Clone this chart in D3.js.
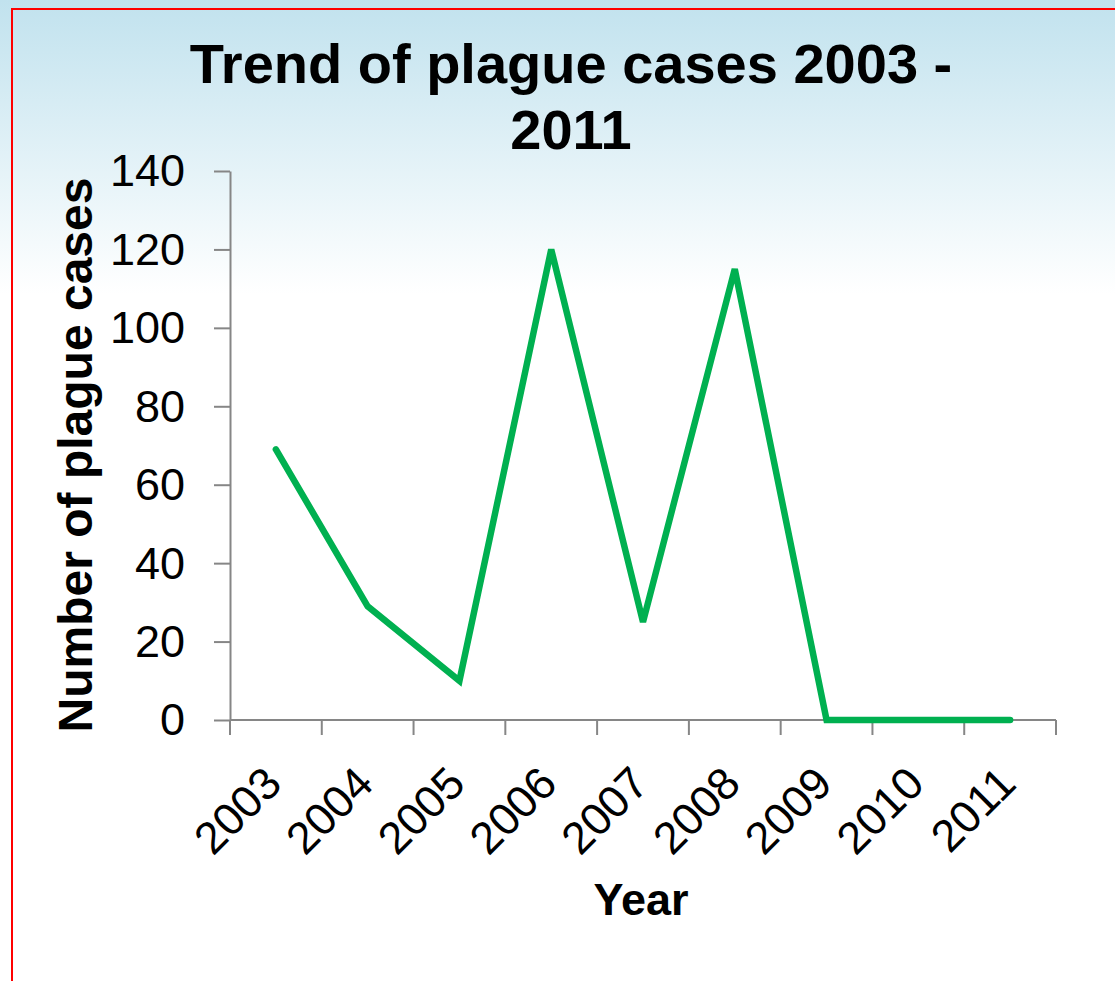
<!DOCTYPE html>
<html>
<head>
<meta charset="utf-8">
<script src="https://cdn.jsdelivr.net/npm/d3@7"></script>
<style>
  html, body { margin: 0; padding: 0; background: #fff; }
  svg { display: block; font-family: "Liberation Sans", Arial, sans-serif; }
</style>
</head>
<body>
<div id="chart"></div>
<script>
const years = ["2003", "2004", "2005", "2006", "2007", "2008", "2009", "2010", "2011"];
const cases = [69, 29, 10, 120, 25, 115, 0, 0, 0];
const yTicks = [0, 20, 40, 60, 80, 100, 120, 140];
const titleLines = ["Trend of plague cases 2003 -", "2011"];

const w = 1115;
const h = 981;

const svg = d3.select("#chart")
    .append("svg")
    .attr("width", w)
    .attr("height", h);

// background fade, blue at the top to white
const grad = svg.append("defs").append("linearGradient")
    .attr("id", "bg")
    .attr("x1", 0).attr("y1", 0)
    .attr("x2", 0).attr("y2", 1);
grad.append("stop").attr("offset", "0").attr("stop-color", "#c1e2ee");
grad.append("stop").attr("offset", "0.3").attr("stop-color", "#ffffff");
grad.append("stop").attr("offset", "1").attr("stop-color", "#ffffff");

svg.append("rect")
    .attr("width", w)
    .attr("height", h)
    .attr("fill", "url(#bg)");

svg.append("rect")
    .attr("x", 12)
    .attr("y", 9)
    .attr("width", 1300)
    .attr("height", 1300)
    .attr("fill", "none")
    .attr("stroke", "#ff0000")
    .attr("stroke-width", 2);

const xScale = d3.scaleBand().domain(years).range([230, 1056]).padding(0);
const yScale = d3.scaleLinear().domain([0, 140]).range([720, 171]);
const bw = xScale.bandwidth();

// y axis
const yAxis = d3.axisLeft(yScale)
    .tickValues(yTicks)
    .tickSize(16)
    .tickPadding(29)
    .tickSizeOuter(0);

const gy = svg.append("g")
    .attr("transform", "translate(230,0)")
    .call(yAxis);
gy.select(".domain").attr("stroke", "#868686").attr("stroke-width", 2);
gy.selectAll(".tick line").attr("stroke", "#868686").attr("stroke-width", 2);
gy.selectAll(".tick text")
    .attr("font-size", 45)
    .attr("font-family", "'Liberation Sans', Arial, sans-serif")
    .attr("fill", "#000")
    .attr("dy", "0.33em");

// x axis: line, boundary ticks and slanted labels
const gx = svg.append("g").attr("id", "x-axis");
gx.append("line")
    .attr("x1", xScale.range()[0])
    .attr("x2", xScale.range()[1])
    .attr("y1", yScale(0))
    .attr("y2", yScale(0))
    .attr("stroke", "#868686")
    .attr("stroke-width", 2);

const edges = years.map(d => xScale(d)).concat([xScale.range()[1]]);
gx.selectAll("line.tick")
    .data(edges)
    .enter()
    .append("line")
    .attr("class", "tick")
    .attr("x1", d => d)
    .attr("x2", d => d)
    .attr("y1", yScale(0))
    .attr("y2", yScale(0) + 15)
    .attr("stroke", "#868686")
    .attr("stroke-width", 2);

gx.selectAll("text")
    .data(years)
    .enter()
    .append("text")
    .attr("transform", d => "translate(" + (xScale(d) + bw / 2 + 8) + "," + (yScale(0) + 66) + ") rotate(-45)")
    .attr("text-anchor", "end")
    .attr("font-size", 45)
    .text(d => d);

// line
const line = d3.line()
    .x((d, i) => xScale(years[i]) + bw / 2)
    .y(d => yScale(d));

svg.append("path")
    .datum(cases)
    .attr("d", line)
    .attr("fill", "none")
    .attr("stroke", "#00b050")
    .attr("stroke-width", 6.5)
    .attr("stroke-linejoin", "miter")
    .attr("stroke-linecap", "round");

// titles
svg.append("text")
    .attr("x", 571)
    .attr("text-anchor", "middle")
    .attr("font-size", 56)
    .attr("font-weight", "bold")
    .selectAll("tspan")
    .data(titleLines)
    .enter()
    .append("tspan")
    .attr("x", 571)
    .attr("y", (d, i) => 83 + i * 66)
    .text(d => d);

svg.append("text")
    .attr("transform", "translate(92,455) rotate(-90)")
    .attr("text-anchor", "middle")
    .attr("font-size", 48)
    .attr("font-weight", "bold")
    .text("Number of plague cases");

svg.append("text")
    .attr("x", 641)
    .attr("y", 915)
    .attr("text-anchor", "middle")
    .attr("font-size", 45)
    .attr("font-weight", "bold")
    .text("Year");
</script>
</body>
</html>
